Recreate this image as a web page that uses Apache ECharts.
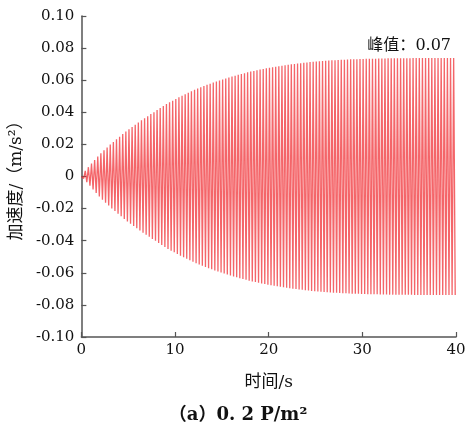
<!DOCTYPE html>
<html>
<head>
<meta charset="utf-8">
<script src="https://cdn.jsdelivr.net/npm/echarts@6/dist/echarts.min.js"></script>
<style>
  html, body { margin: 0; padding: 0; background: #fff; }
  #chart { width: 476px; height: 426px; }
</style>
</head>
<body>
<div id="chart"></div>
<script>
// 每个周期的峰值幅度 (m/s^2)，每秒3个周期
var cycleAmp = [
  0.0012, 0.0035, 0.0058, 0.0081, 0.0103, 0.0125, 0.0145, 0.0163, 0.0181, 0.0199, 0.0215, 0.0232,
  0.0248, 0.0264, 0.0280, 0.0295, 0.0309, 0.0323, 0.0337, 0.0350, 0.0363, 0.0376, 0.0389, 0.0401,
  0.0414, 0.0427, 0.0439, 0.0451, 0.0462, 0.0472, 0.0483, 0.0493, 0.0503, 0.0513, 0.0522, 0.0531,
  0.0540, 0.0548, 0.0556, 0.0564, 0.0571, 0.0578, 0.0585, 0.0592, 0.0598, 0.0605, 0.0611, 0.0617,
  0.0623, 0.0628, 0.0634, 0.0639, 0.0644, 0.0649, 0.0654, 0.0658, 0.0662, 0.0666, 0.0670, 0.0674,
  0.0677, 0.0681, 0.0684, 0.0687, 0.0690, 0.0693, 0.0696, 0.0699, 0.0701, 0.0704, 0.0706, 0.0708,
  0.0711, 0.0713, 0.0715, 0.0716, 0.0718, 0.0720, 0.0721, 0.0722, 0.0724, 0.0725, 0.0726, 0.0727,
  0.0728, 0.0729, 0.0730, 0.0730, 0.0731, 0.0732, 0.0732, 0.0733, 0.0733, 0.0734, 0.0734, 0.0735,
  0.0735, 0.0735, 0.0736, 0.0736, 0.0736, 0.0737, 0.0737, 0.0737, 0.0737, 0.0737, 0.0738, 0.0738,
  0.0738, 0.0738, 0.0738, 0.0738, 0.0738, 0.0738, 0.0738, 0.0738, 0.0738, 0.0738, 0.0738, 0.0738
];
var cyclePeriod = 1 / 3;   // 周期 (s)
var xTicks = [0, 10, 20, 30, 40];
var yTicks = [-0.10, -0.08, -0.06, -0.04, -0.02, 0, 0.02, 0.04, 0.06, 0.08, 0.10];
var peakText = '峰值：0.07';

var serif = '"DejaVu Serif", "Noto Sans CJK SC", serif';

// 组装曲线数据：每个周期一个正峰和一个负峰
var data = [[0, 0]];
cycleAmp.forEach(function (a, k) {
  var t0 = k * cyclePeriod;
  data.push([t0 + cyclePeriod / 4, a]);
  data.push([t0 + cyclePeriod * 3 / 4, -a]);
});

var axisColor = '#555';
var option = {
  animation: false,
  backgroundColor: '#fff',
  grid: { left: 80, right: 20, top: 16, bottom: 89 },
  title: [
    {
      text: '（a）0. 2 P/m²',
      left: 'center',
      top: 401,
      textStyle: { fontFamily: serif, fontSize: 18, fontWeight: 'bold', color: '#111' }
    },
    {
      text: peakText,
      right: 20,
      top: 33,
      textStyle: { fontFamily: serif, fontSize: 16, fontWeight: 'normal', color: '#111' }
    }
  ],
  xAxis: {
    type: 'value',
    min: xTicks[0],
    max: xTicks[xTicks.length - 1],
    interval: 10,
    name: '时间/s',
    nameLocation: 'middle',
    nameGap: 37,
    nameTextStyle: { fontFamily: serif, fontSize: 17, color: '#111' },
    axisLine: { onZero: false, lineStyle: { color: axisColor, width: 1.5 } },
    axisTick: { inside: true, length: 5, lineStyle: { color: axisColor, width: 1.2 } },
    axisLabel: { fontFamily: serif, fontSize: 15, color: '#111', margin: 6 },
    splitLine: { show: false }
  },
  yAxis: {
    type: 'value',
    min: yTicks[0],
    max: yTicks[yTicks.length - 1],
    interval: 0.02,
    name: '加速度/（m/s²）',
    nameLocation: 'middle',
    nameRotate: 90,
    nameGap: 53,
    nameTextStyle: { fontFamily: serif, fontSize: 17, color: '#111' },
    axisLine: { show: true, lineStyle: { color: axisColor, width: 1.5 } },
    axisTick: { show: true, inside: true, length: 5, lineStyle: { color: axisColor, width: 1.2 } },
    axisLabel: {
      fontFamily: serif, fontSize: 15, color: '#111', margin: 7,
      formatter: function (v) { return Math.abs(v) < 1e-9 ? '0' : v.toFixed(2); }
    },
    splitLine: { show: false }
  },
  series: [
    {
      type: 'line',
      data: data,
      showSymbol: false,
      sampling: null,
      lineStyle: { color: 'rgba(240,50,55,0.75)', width: 1.3 },
      z: 1
    }
  ]
};

var myChart = echarts.init(document.getElementById('chart'));
myChart.setOption(option);
</script>
</body>
</html>
